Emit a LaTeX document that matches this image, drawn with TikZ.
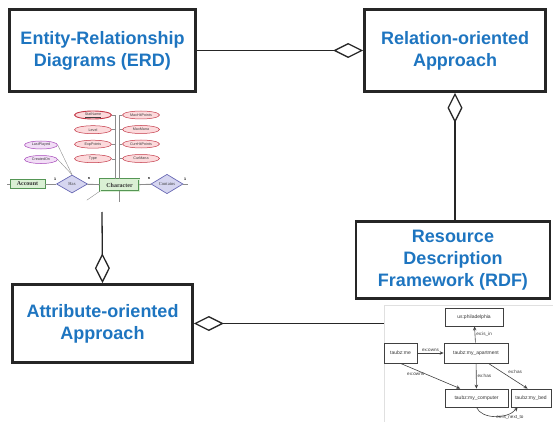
\documentclass[tikz,border=0pt]{standalone}
\usepackage{fontspec}
\setmainfont{Liberation Sans}
\newfontfamily\erdserif{Liberation Serif}
\usepackage{tikz}
\usetikzlibrary{positioning, shapes.geometric, arrows.meta}
\definecolor{titleblue}{RGB}{30,117,192}
\definecolor{attrred}{RGB}{195,55,70}
\definecolor{attrpink}{RGB}{252,218,220}
\definecolor{attrpurple}{RGB}{165,70,185}
\definecolor{attrlilac}{RGB}{242,222,246}
\definecolor{entgreen}{RGB}{85,150,85}
\definecolor{entfill}{RGB}{218,240,212}
\definecolor{relblue}{RGB}{105,105,180}
\definecolor{relfill}{RGB}{214,214,240}

\begin{document}
\begin{tikzpicture}[x=1pt, y=-1pt, node distance=6pt]
    % Define styles
    \tikzstyle{concept} = [rectangle, draw=black!85, line width=2.6pt, align=center,
        text=titleblue, font=\fontsize{18}{22}\selectfont\bfseries, inner sep=0pt]
    \tikzstyle{aggr} = [draw=black!85, line width=1.3pt, -{Diamond[open, length=30pt, width=15pt]}]
    \tikzstyle{attr} = [ellipse, draw=attrred, fill=attrpink, line width=0.5pt, inner sep=0pt,
        minimum width=37pt, minimum height=8pt, text=black!75, font=\fontsize{3.7}{4}\selectfont]
    \tikzstyle{attrb} = [attr, draw=attrpurple, fill=attrlilac, minimum width=33pt]
    \tikzstyle{entity} = [rectangle, draw=entgreen, fill=entfill, line width=0.5pt, inner sep=0pt,
        text=black!80, font=\fontsize{6}{7}\selectfont\erdserif\bfseries]
    \tikzstyle{relship} = [diamond, draw=relblue, fill=relfill, line width=0.7pt, inner sep=0pt,
        text=black!75, font=\fontsize{4.6}{5}\selectfont\erdserif]
    \tikzstyle{erline} = [draw=black!45, line width=0.4pt]
    \tikzstyle{card} = [inner sep=0pt, font=\fontsize{3.6}{4}\selectfont\bfseries]
    \tikzstyle{res} = [rectangle, draw=black!75, line width=0.8pt, inner sep=0pt,
        minimum height=18pt, text=black!80, font=\fontsize{5}{6}\selectfont]
    \tikzstyle{rdfedge} = [draw=black!75, line width=0.6pt, -{Stealth[length=4pt, width=3.5pt]}]
    \tikzstyle{elabel} = [inner sep=1pt, text=black!80, font=\fontsize{4.6}{5}\selectfont]

    \useasboundingbox (0,0) rectangle (553,422);

    % Place nodes
    \node [concept, minimum width=186pt, minimum height=82pt] (erd) at (102.5,50.5)
        {Entity-Relationship\\Diagrams (ERD)};
    \node [concept, minimum width=181pt, minimum height=82pt] (rel) at (455,50.5)
        {Relation-oriented\\Approach};
    \node [concept, minimum width=194pt, minimum height=77pt] (rdf) at (453,260)
        {Resource\\Description\\Framework (RDF)};
    \node [concept, minimum width=180pt, minimum height=78pt] (attrbox) at (102.5,323.5)
        {Attribute-oriented\\Approach};

    % ER diagram picture
    \node [attr, line width=0.9pt] (statname) at (93,115) {\underline{StatName}};
    \node [attr, below=6pt of statname] (level) {Level};
    \node [attr, below=6pt of level] (exppoints) {ExpPoints};
    \node [attr, below=6pt of exppoints] (type) {Type};
    \node [attr] (maxhp) at (141,115) {MaxHitPoints};
    \node [attr, below=6pt of maxhp] (maxmana) {MaxMana};
    \node [attr, below=6pt of maxmana] (currhp) {CurrHitPoints};
    \node [attr, below=6pt of currhp] (curmana) {CurMana};
    \node [attrb] (lastplayed) at (41,145) {LastPlayed};
    \node [attrb, below=6pt of lastplayed] (createdon) {CreatedOn};

    \node [entity, minimum width=35pt, minimum height=9pt] (account) at (27.5,184) {Account};
    \node [relship, minimum width=31pt, minimum height=18pt] (has) at (72,184) {Has};
    \node [entity, double=entfill, double distance=0.8pt, minimum width=39pt, minimum height=12pt]
        (character) at (119.5,185) {Character};
    \node [relship, minimum width=32pt, minimum height=18pt] (contains) at (167,184) {Contains};

    \node [card] (c1) at (55,179) {1};
    \node [card] (c2) at (89,179) {n};
    \node [card] (c3) at (149,179) {n};
    \node [card] (c4) at (185,179) {1};

    \draw [erline] (statname.east) -- ++(3,0) coordinate (lc) -- (lc |- character.north);
    \draw [erline] (level.east) -- (level.east -| lc);
    \draw [erline] (exppoints.east) -- (exppoints.east -| lc);
    \draw [erline] (type.east) -- (type.east -| lc);
    \draw [erline] (maxhp.west) -- ++(-3,0) coordinate (rc) -- (rc |- character.north);
    \draw [erline] (maxmana.west) -- (maxmana.west -| rc);
    \draw [erline] (currhp.west) -- (currhp.west -| rc);
    \draw [erline] (curmana.west) -- (curmana.west -| rc);
    \draw [erline] (lastplayed.east) -- (has.north);
    \draw [erline] (createdon.east) -- (has.north);
    \draw [erline] (account.west) -- ++(-3,0);
    \draw [erline] (account) -- (has);
    \draw [erline, line width=0.9pt] (has) -- (character);
    \draw [erline, line width=0.9pt] (character) -- (contains);
    \draw [erline] (contains.east) -- ++(5,0);
    \draw [erline] (character.south west) -- ++(-13,9);
    \draw [erline] (character.south) -- ++(0,11);
    \coordinate (erdpic) at (102,212);

    % RDF graph picture
    \node [draw=black!12, line width=0.5pt, minimum width=169pt, minimum height=117pt, inner sep=0pt]
        (rdfimg) at (468.5,363.5) {};
    \node [res, minimum width=58pt] (phil) at (474,317) {us:philadelphia};
    \node [res, minimum width=33pt, minimum height=20pt] (me) at (400.5,353) {taubz:me};
    \node [res, minimum width=64pt, minimum height=20pt] (apt) at (476,353) {taubz:my\_apartment};
    \node [res, minimum width=63pt] (comp) at (476.5,398) {taubz:my\_computer};
    \node [res, minimum width=40pt] (bed) at (531,398) {taubz:my\_bed};

    % Draw edges
    \path [aggr] (erd) -- (rel);
    \path [aggr] (rel.south |- rdf.north) -- (rel.south);
    \path [aggr] (erdpic) -- (attrbox.north);
    \path [aggr] (rdfimg.west |- attrbox.east) -- (attrbox.east);

    \path [rdfedge] (apt) -- node [elabel, right] {ex:is\_in} (phil);
    \path [rdfedge] (me) -- node [elabel, above] {ex:owns} (apt);
    \path [rdfedge] (me.south) -- node [elabel, pos=0.35, below left=0pt and -4pt] {ex:owns} (comp.150);
    \path [rdfedge] (apt) -- node [elabel, right] {ex:has} (comp);
    \path [rdfedge] (apt.-40) -- node [elabel, pos=0.45, above right=0pt and 1pt] {ex:has} (bed.110);
    \path [rdfedge] (comp.south) .. controls +(5,12) and +(-10,12) .. ([xshift=7pt]bed.south west)
        node [elabel, pos=0.8, below=1pt] {ex:is\_next\_to};
\end{tikzpicture}
\end{document}
